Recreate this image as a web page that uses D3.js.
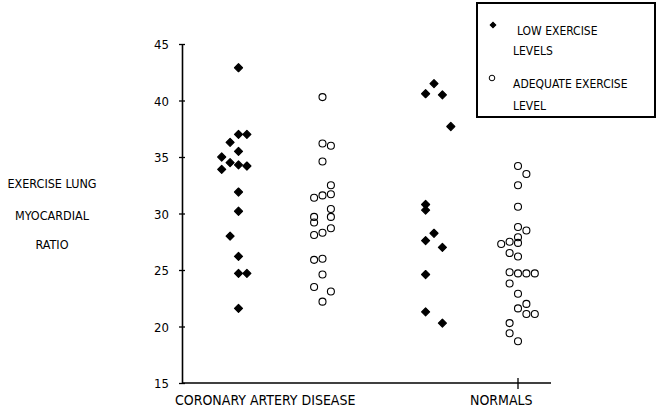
<!DOCTYPE html>
<html>
<head>
<meta charset="utf-8">
<script src="https://cdn.jsdelivr.net/npm/d3@7"></script>
<style>
  html, body { margin: 0; padding: 0; background: #fff; }
  svg { display: block; }
  text { font-family: "Liberation Sans Narrow", "Arial Narrow", "DejaVu Sans Condensed", sans-serif; fill: #000; }
</style>
</head>
<body>
<svg id="chart" width="657" height="411"></svg>
<script>
// ---------------- data ----------------
const categories = ["CORONARY ARTERY DISEASE", "NORMALS"];
const seriesNames = ["LOW EXERCISE LEVELS", "ADEQUATE EXERCISE LEVEL"];
const yTicks = [15, 20, 25, 30, 35, 40, 45];
const yTitle = ["EXERCISE LUNG", "MYOCARDIAL", "RATIO"];

// Coronary artery disease, low exercise levels (filled)
const cadLow      = [42.9, 37.0, 37.0, 36.3, 35.5, 35.0, 34.5, 34.3, 34.2, 33.9, 31.9, 30.2, 28.0, 26.2, 24.7, 24.7, 21.6];
const cadLowSlot  = [0, 0, 1, -1, 0, -2, -1, 0, 1, -2, 0, 0, -1, 0, 0, 1, 0];
// Coronary artery disease, adequate exercise level (open)
const cadAdq      = [40.3, 36.2, 36.0, 34.6, 32.5, 31.4, 31.6, 31.7, 30.4, 29.7, 29.7, 29.2, 28.1, 28.3, 28.7, 25.9, 26.0, 24.6, 23.5, 23.1, 22.2];
const cadAdqSlot  = [0, 0, 1, 0, 1, -1, 0, 1, 1, 1, -1, -1, -1, 0, 1, -1, 0, 0, -1, 1, 0];
// Normals, low exercise levels (filled)
const norLow      = [41.5, 40.6, 40.5, 37.7, 30.8, 30.3, 28.25, 27.6, 27.0, 24.6, 21.3, 20.3];
const norLowSlot  = [0, -1, 1, 2, -1, -1, 0, -1, 1, -1, -1, 1];
// Normals, adequate exercise level (open)
const norAdq      = [34.2, 33.5, 32.5, 30.6, 28.8, 28.5, 27.9, 27.4, 27.3, 27.5, 26.5, 26.2, 24.8, 24.7, 24.7, 24.7, 23.8, 22.9, 22.0, 21.6, 21.1, 21.1, 20.3, 19.4, 18.7];
const norAdqSlot  = [0, 1, 0, 0, 0, 1, 0, 0, -2, -1, -1, 0, -1, 0, 1, 2, -1, 0, 1, 0, 1, 2, -1, -1, 0];

// ---------------- layout ----------------
const svg = d3.select("#chart");
const y = d3.scaleLinear().domain([15, 45]).range([383, 44]);
const xGroup = d3.scalePoint().domain(categories).range([280.5, 476]);
const xSeries = d3.scalePoint().domain(seriesNames).range([-42, 42]);
const slot = d3.scaleLinear().domain([-1, 1]).range([-8.4, 8.4]);
const axisLeftX = 182, axisRightX = 551;

const columns = [
  { vals: cadLow, slots: cadLowSlot, cat: categories[0], ser: seriesNames[0], filled: true },
  { vals: cadAdq, slots: cadAdqSlot, cat: categories[0], ser: seriesNames[1], filled: false },
  { vals: norLow, slots: norLowSlot, cat: categories[1], ser: seriesNames[0], filled: true },
  { vals: norAdq, slots: norAdqSlot, cat: categories[1], ser: seriesNames[1], filled: false }
];

// y axis
const yAxis = d3.axisLeft(y).tickValues(yTicks).tickSize(3).tickSizeOuter(0).tickPadding(10);
const gy = svg.append("g").attr("transform", `translate(${axisLeftX},0)`).call(yAxis);
gy.select(".domain").attr("stroke", "#000").attr("stroke-width", 1.6);
gy.selectAll(".tick line").attr("x1", -3).attr("x2", 3).attr("stroke", "#000").attr("stroke-width", 1.3);
gy.selectAll(".tick text").style("font-size", "13px").attr("dy", "0.36em");

// x axis
svg.append("line").attr("x1", axisLeftX).attr("x2", axisRightX).attr("y1", y(15)).attr("y2", y(15))
  .attr("stroke", "#000").attr("stroke-width", 1.6);
const tickX = xGroup(categories[1]) + xSeries(seriesNames[1]);
svg.append("line").attr("x1", tickX).attr("x2", tickX).attr("y1", y(15) - 5).attr("y2", y(15) + 6)
  .attr("stroke", "#000").attr("stroke-width", 1.3);

// category labels
svg.append("text").attr("x", 175).attr("y", 405).style("font-size", "14px").text(categories[0]);
svg.append("text").attr("x", 470).attr("y", 405).style("font-size", "14px").text(categories[1]);

// y title
svg.selectAll("text.ytitle").data(yTitle).join("text").attr("class", "ytitle")
  .attr("x", 52).attr("y", (d, i) => [188, 220, 249][i])
  .attr("text-anchor", "middle").style("font-size", "12.5px").text(d => d);

// points
const diamond = d3.symbol().type(d3.symbolSquare).size(32);
columns.forEach(col => {
  const cx = xGroup(col.cat) + xSeries(col.ser);
  const pts = col.vals.map((v, i) => ({ v, s: col.slots[i] }));
  const g = svg.append("g");
  if (col.filled) {
    g.selectAll("path").data(pts).join("path")
      .attr("d", diamond)
      .attr("transform", d => `translate(${cx + slot(d.s)},${y(d.v)}) rotate(45)`)
      .attr("fill", "#000").attr("stroke", "#000").attr("stroke-width", 1.2).attr("stroke-linejoin", "round");
  } else {
    g.selectAll("circle").data(pts).join("circle")
      .attr("cx", d => cx + slot(d.s)).attr("cy", d => y(d.v)).attr("r", 3.5)
      .attr("fill", "none").attr("stroke", "#000").attr("stroke-width", 1.1);
  }
});

// legend
const lg = svg.append("g");
lg.append("rect").attr("x", 477).attr("y", 3).attr("width", 178).attr("height", 114)
  .attr("fill", "none").attr("stroke", "#000").attr("stroke-width", 2);
lg.append("path").attr("d", d3.symbol().type(d3.symbolSquare).size(16))
  .attr("transform", "translate(493,25) rotate(45)").attr("fill", "#000").attr("stroke", "#000").attr("stroke-width", 1);
lg.append("circle").attr("cx", 492).attr("cy", 78).attr("r", 2.8).attr("fill", "none").attr("stroke", "#000").attr("stroke-width", 1);
lg.append("text").attr("x", 517).attr("y", 35).style("font-size", "12px").text("LOW EXERCISE");
lg.append("text").attr("x", 513).attr("y", 55).style("font-size", "12px").text("LEVELS");
lg.append("text").attr("x", 513).attr("y", 88).style("font-size", "12px").text("ADEQUATE EXERCISE");
lg.append("text").attr("x", 513).attr("y", 110).style("font-size", "12px").text("LEVEL");
</script>
</body>
</html>
